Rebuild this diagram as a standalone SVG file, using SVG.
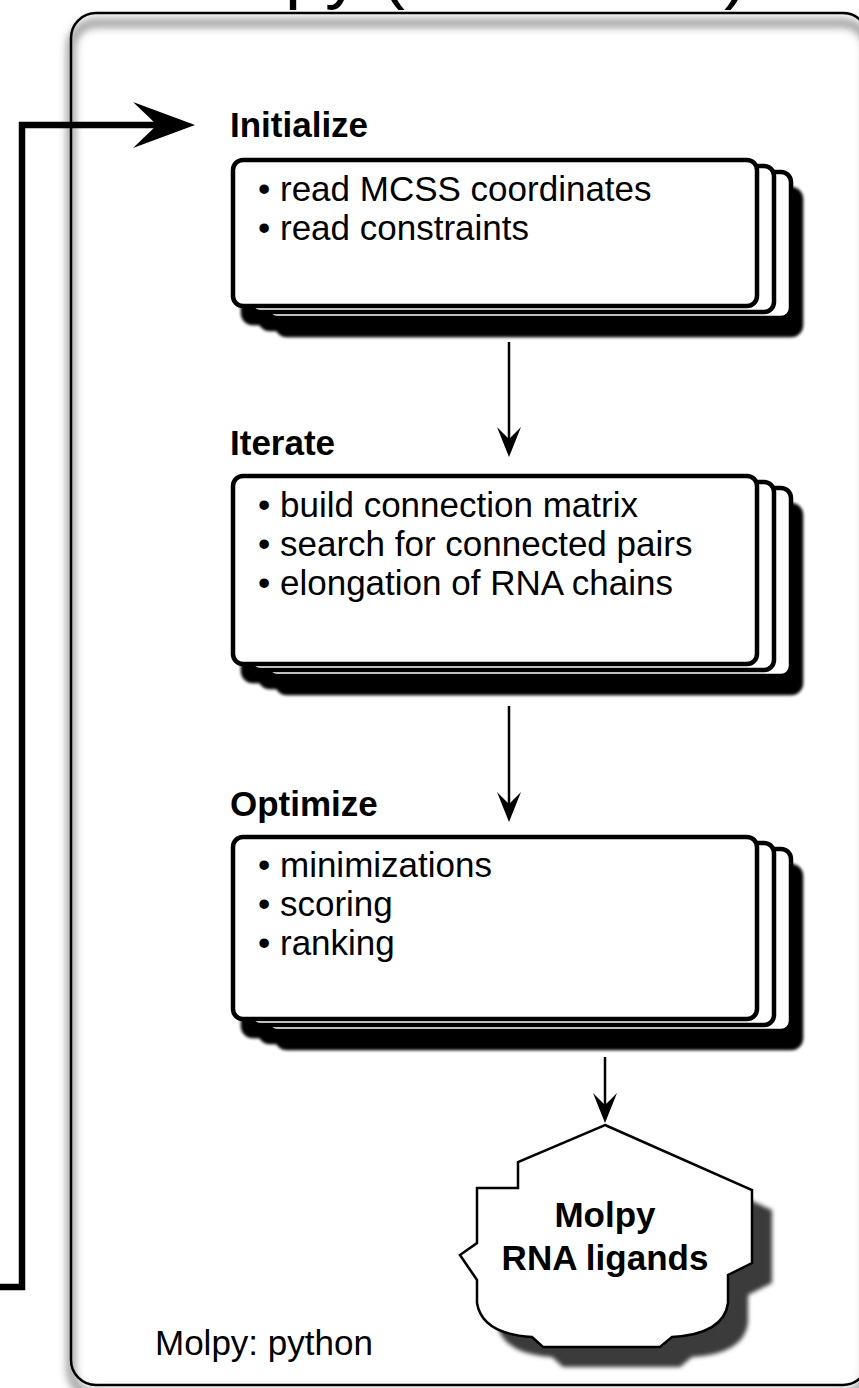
<svg xmlns="http://www.w3.org/2000/svg" width="859" height="1388" viewBox="0 0 859 1388">
<style>
  text { font-family: "Liberation Sans", Arial, Helvetica, sans-serif; fill: #000; }
  .title { font-size: 72px; }
  .label { font-size: 35px; font-weight: bold; }
  .body { font-size: 35px; }
  .cloudtxt { font-size: 35px; font-weight: bold; text-anchor: middle; }
  .card { fill: #fff; stroke: #000; stroke-width: 4.5; }
  .flow { fill: none; stroke: #000; stroke-width: 2.5; }
  .feedback { fill: none; stroke: #000; stroke-width: 6.5; stroke-linejoin: miter; }
  .container { fill: none; stroke: #000; stroke-width: 2.5; }
  .containerShadow { fill: none; stroke: #6e6e6e; stroke-width: 8; opacity: 0.75; }
</style>
<defs>
  <filter id="cardShadow" x="-5%" y="-10%" width="115%" height="140%">
    <feGaussianBlur in="SourceAlpha" stdDeviation="1.5" result="b"/>
    <feOffset in="b" dx="10" dy="17" result="o"/>
    <feMerge><feMergeNode in="o"/><feMergeNode in="SourceGraphic"/></feMerge>
  </filter>
  <filter id="blur4" x="-5%" y="-5%" width="110%" height="110%">
    <feGaussianBlur stdDeviation="4"/>
  </filter>
  <filter id="blur2" x="-10%" y="-10%" width="120%" height="120%">
    <feGaussianBlur stdDeviation="2"/>
  </filter>
  <marker id="arr" markerUnits="userSpaceOnUse" markerWidth="30" markerHeight="24" refX="12" refY="12" orient="auto" viewBox="0 0 30 24">
    <path d="M0,0 L30,12 L0,24 L12,12 Z" fill="#000"/>
  </marker>
  <marker id="bigArr" markerUnits="userSpaceOnUse" markerWidth="62" markerHeight="46" refX="24" refY="23" orient="auto" viewBox="0 0 62 46">
    <path d="M0,0 L62,23 L0,46 L24,23 Z" fill="#000"/>
  </marker>
</defs>

<g id="title">
  <text class="title" x="169" y="-5">Molpy (</text>
  <text class="title" x="724" y="-5">)</text>
</g>

<g id="container">
  <rect class="containerShadow" x="71" y="13" width="797" height="1372" rx="25" transform="translate(0,10)" filter="url(#blur4)"/>
  <rect class="container" x="71" y="13" width="797" height="1372" rx="25"/>
  <text class="body" x="155" y="1355">Molpy: python</text>
</g>

<g id="connectors">
  <path class="feedback" d="M-5,1287 H22 V125 H157" marker-end="url(#bigArr)"/>
  <path class="flow" d="M509,342 V439" marker-end="url(#arr)"/>
  <path class="flow" d="M509,706 V804" marker-end="url(#arr)"/>
  <path class="flow" d="M605,1057 V1105" marker-end="url(#arr)"/>
</g>

<g id="initialize">
  <text class="label" x="230" y="137">Initialize</text>
  <g filter="url(#cardShadow)">
    <rect class="card" x="267" y="172" width="524" height="146" rx="10"/>
    <rect class="card" x="250" y="166" width="524" height="146" rx="10"/>
    <rect class="card" x="233" y="160" width="524" height="146" rx="10"/>
  </g>
  <text class="body" x="258" y="201">• read MCSS coordinates</text>
  <text class="body" x="258" y="240">• read constraints</text>
</g>

<g id="iterate">
  <text class="label" x="230" y="455">Iterate</text>
  <g filter="url(#cardShadow)">
    <rect class="card" x="267" y="488" width="524" height="188" rx="10"/>
    <rect class="card" x="250" y="482" width="524" height="188" rx="10"/>
    <rect class="card" x="233" y="476" width="524" height="188" rx="10"/>
  </g>
  <text class="body" x="258" y="517">• build connection matrix</text>
  <text class="body" x="258" y="556">• search for connected pairs</text>
  <text class="body" x="258" y="595">• elongation of RNA chains</text>
</g>

<g id="optimize">
  <text class="label" x="230" y="816">Optimize</text>
  <g filter="url(#cardShadow)">
    <rect class="card" x="267" y="849" width="524" height="182" rx="10"/>
    <rect class="card" x="250" y="843" width="524" height="182" rx="10"/>
    <rect class="card" x="233" y="837" width="524" height="182" rx="10"/>
  </g>
  <text class="body" x="258" y="877">• minimizations</text>
  <text class="body" x="258" y="916">• scoring</text>
  <text class="body" x="258" y="955">• ranking</text>
</g>

<g id="result">
  <path d="M605,1125 L752,1190 L752,1263 L728,1275 L728,1303 Q724,1334 672,1337 L660,1347 L543,1347 L532,1337 Q482,1334 477,1303 L477,1280 L460,1255 L477,1243 L477,1188 L518,1188 L518,1162 Z" fill="#3a3a3a" transform="translate(20,20)" filter="url(#blur2)"/>
  <path d="M605,1125 L752,1190 L752,1263 L728,1275 L728,1303 Q724,1334 672,1337 L660,1347 L543,1347 L532,1337 Q482,1334 477,1303 L477,1280 L460,1255 L477,1243 L477,1188 L518,1188 L518,1162 Z" fill="#fff" stroke="#000" stroke-width="2.5" stroke-linejoin="miter"/>
  <text class="cloudtxt" x="605" y="1227">Molpy</text>
  <text class="cloudtxt" x="605" y="1270">RNA ligands</text>
</g>
</svg>
